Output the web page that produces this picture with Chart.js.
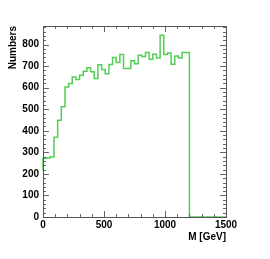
<!DOCTYPE html>
<html>
<head>
<meta charset="utf-8">
<script src="https://cdn.jsdelivr.net/npm/chart.js@4/dist/chart.umd.min.js"></script>
<style>
  html, body { margin: 0; padding: 0; background: #fff; }
  canvas { display: block; }
</style>
</head>
<body>
<canvas id="hist" width="270" height="259"></canvas>
<script>
// bin edges in GeV (30 GeV bins up to 1200)
var binEdges = [0, 30, 60, 90, 120, 150, 180, 210, 240, 270,
                300, 330, 360, 390, 420, 450, 480, 510, 540, 570,
                600, 630, 660, 690, 720, 750, 780, 810, 840, 870,
                900, 930, 960, 990, 1020, 1050, 1080, 1110, 1140, 1170, 1200];

// entries per bin
var counts = [214, 272, 274, 280, 370, 449, 511, 603, 619, 650,
              638, 658, 676, 692, 674, 642, 706, 684, 665, 707,
              740, 717, 754, 689, 689, 725, 711, 750, 745, 763,
              732, 755, 738, 843, 754, 761, 709, 747, 738, 763];

var xTickValues = [0, 500, 1000, 1500];
var yTickValues = [0, 100, 200, 300, 400, 500, 600, 700, 800];
var xMax = 1500;
var yMax = 886;

//histogram outline as step points
var points = counts.map(function(c, i) { return {x: binEdges[i], y: c}; });
points.push({x: binEdges[binEdges.length - 1], y: counts[counts.length - 1]});
points.push({x: binEdges[binEdges.length - 1], y: 0});
points.push({x: xMax, y: 0});

var font = {family: "'Liberation Sans', Arial, sans-serif", size: 10, weight: 'bold'};

//ROOT style frame with inner ticks on all sides
var rootFrame = {
    id: 'rootFrame',
    afterDatasetsDraw: function(chart) {
        var ctx = chart.ctx, a = chart.chartArea;
        var xs = chart.scales.x, ys = chart.scales.y;
        ctx.save();
        ctx.strokeStyle = '#666';
        ctx.lineWidth = 1;
        ctx.beginPath();
        for (var v = 0; v <= yMax; v += 20) {
            var py = Math.round(ys.getPixelForValue(v)) + 0.5;
            var len = (v % 100 === 0) ? 6 : 3;
            ctx.moveTo(a.left, py); ctx.lineTo(a.left + len, py);
            ctx.moveTo(a.right, py); ctx.lineTo(a.right - len, py);
        }
        for (var u = 0; u <= xMax; u += 100) {
            var px = Math.round(xs.getPixelForValue(u)) + 0.5;
            var l2 = (u % 500 === 0) ? 6 : 3;
            ctx.moveTo(px, a.bottom); ctx.lineTo(px, a.bottom - l2);
            ctx.moveTo(px, a.top); ctx.lineTo(px, a.top + l2);
        }
        ctx.stroke();
        ctx.strokeStyle = '#555';
        ctx.strokeRect(Math.round(a.left) + 0.5, Math.round(a.top) + 0.5,
                       Math.round(a.right - a.left), Math.round(a.bottom - a.top));
        ctx.restore();
    }
};

var plain = function(v) { return String(v); };

var chart = new Chart(document.getElementById('hist'), {
    type: 'line',
    data: {
        datasets: [{
            label: 'M',
            data: points,
            stepped: 'after',
            borderColor: 'rgb(85, 205, 85)',
            borderWidth: 1.5,
            pointRadius: 0,
            fill: false,
            clip: 3
        }]
    },
    options: {
        responsive: false,
        animation: false,
        devicePixelRatio: 1,
        layout: {padding: {left: 0, right: 44, top: 26, bottom: 0}},
        plugins: {legend: {display: false}, tooltip: {enabled: false}},
        scales: {
            x: {
                type: 'linear',
                min: 0,
                max: xMax,
                afterBuildTicks: function(s) { s.ticks = xTickValues.map(function(v) { return {value: v}; }); },
                afterFit: function(s) { s.height = 42; },
                grid: {display: false, drawTicks: false},
                border: {display: false},
                ticks: {font: font, color: '#000', padding: 2, maxRotation: 0, callback: plain},
                title: {display: true, text: 'M [GeV]', align: 'end', font: font, color: '#000', padding: {top: 0, bottom: 16}}
            },
            y: {
                type: 'linear',
                min: 0,
                max: yMax,
                afterBuildTicks: function(s) { s.ticks = yTickValues.map(function(v) { return {value: v}; }); },
                afterFit: function(s) { s.width = 43; },
                grid: {display: false, drawTicks: false},
                border: {display: false},
                ticks: {font: font, color: '#000', padding: 4, callback: plain},
                title: {display: true, text: 'Numbers', align: 'end', font: font, color: '#000', padding: {top: 7, bottom: 0}}
            }
        }
    },
    plugins: [rootFrame]
});
</script>
</body>
</html>
